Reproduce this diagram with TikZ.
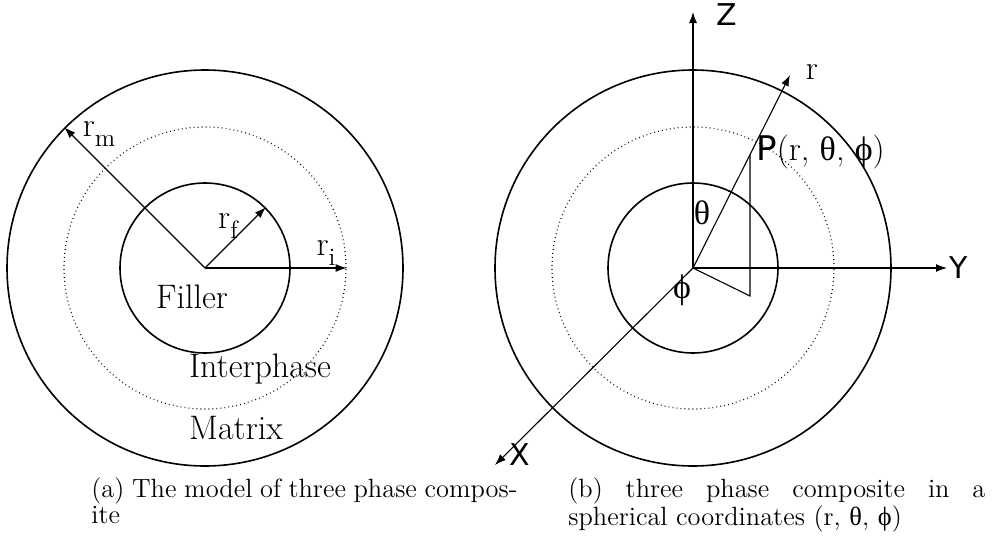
\documentclass[tikz,border=0pt]{standalone}
\usepackage{fontspec}
\usetikzlibrary{arrows.meta}
\newfontfamily\dvs{DejaVu Sans}
\newfontfamily\grk{Liberation Serif}
\newcommand\rsub[1]{r\raisebox{-0.3em}{\fontsize{12.5}{12.5}\selectfont #1}}
\begin{document}
\begin{tikzpicture}[x=0.5pt,y=-0.5pt,
  ring/.style={circle,draw,line width=0.8pt,inner sep=0pt},
  dotring/.style={circle,draw,line width=0.6pt,dash pattern=on 0.4pt off 1.6pt,inner sep=0pt},
  arr/.style={-{Latex[length=5.5pt,width=4pt]},line width=0.55pt},
  thinline/.style={line width=0.55pt},
  lbl/.style={inner sep=0pt,font=\fontsize{17}{20}\selectfont},
  sans/.style={inner sep=0pt,font=\dvs\fontsize{15}{18}\selectfont},
  capbox/.style={inner sep=0pt,anchor=north west,align=justify,font=\fontsize{13.2}{13}\selectfont}
]
\useasboundingbox (0,0) rectangle (998,547);
% ---------- left figure ----------
\coordinate (c1) at (205,268);
\node[ring,minimum size=198pt] (outerL) at (c1) {};
\node[dotring,minimum size=141pt] (midL) at (c1) {};
\node[ring,minimum size=85pt] (innerL) at (c1) {};
\draw[arr] (c1) -- (outerL.135);
\draw[arr] (c1) -- (innerL.45);
\draw[arr] (c1) -- (midL.east);
\node[lbl] (rm) at (99,134) {\rsub{m}};
\node[lbl] (rf) at (228,226) {\rsub{f}};
\node[lbl] (ri) at (326,253) {\rsub{i}};
\node[lbl] (filler) at (192,297) {Filler};
\node[lbl] (inter) at (260,369) {Interphase};
\node[lbl] (matrix) at (236,428) {Matrix};
% ---------- right figure ----------
\coordinate (c2) at (693,268);
\node[ring,minimum size=198pt] (outerR) at (c2) {};
\node[dotring,minimum size=141pt] (midR) at (c2) {};
\node[ring,minimum size=85pt] (innerR) at (c2) {};
\coordinate (zt) at (693,12);
\coordinate (yt) at (947,268);
\coordinate (xt) at (495,465);
\coordinate (rt) at (790,75);
\coordinate (P) at (750,155);
\coordinate (Pf) at (750,296);
\draw[arr] (c2) -- (zt);
\draw[arr] (c2) -- (yt);
\draw[arr] (c2) -- (xt);
\draw[arr] (c2) -- (rt);
\draw[thinline] (P) -- (Pf) -- (c2);
\node[sans] (zl) at (727,15) {Z};
\node[sans] (yl) at (959,268) {Y};
\node[sans] (xl) at (520,455) {X};
\node[lbl] (rl) at (812,72) {r};
\node[lbl,anchor=west] (pl) at (756,152) {{\dvs P}(r, {\grk θ}, {\grk ϕ})};
\node[lbl] (th) at (702,213) {\grk θ};
\node[lbl] (ph) at (682,290) {\grk ϕ};
% ---------- captions ----------
\node[capbox,text width=213pt] (capa) at (91,477) {(a) The model of three phase compos-\linebreak ite};
\node[capbox,text width=208.5pt] (capb) at (568,477) {(b) three phase composite in a\linebreak spherical coordinates (r, {\grk θ}, {\grk ϕ})};
\end{tikzpicture}
\end{document}
